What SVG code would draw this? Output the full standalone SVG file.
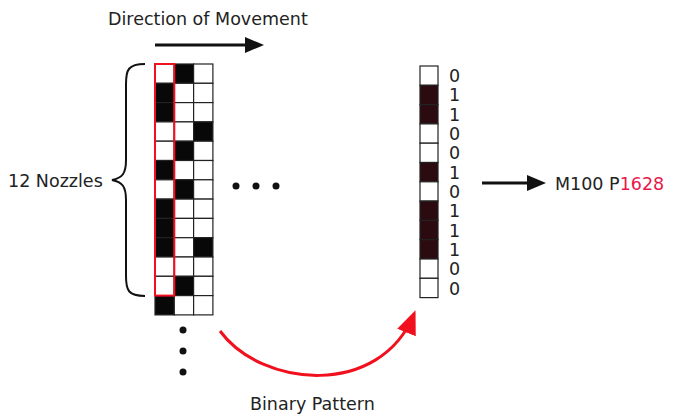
<svg xmlns="http://www.w3.org/2000/svg" width="673" height="416" viewBox="0 0 673 416">
<style>
.t{font-family:"DejaVu Sans","Liberation Sans",sans-serif;font-size:17.5px;fill:#222}
.c{fill:#fff;stroke:#222;stroke-width:1.2}
.b{fill:#080808;stroke:#222;stroke-width:1.2}
.r{fill:#2b0a10;stroke:#222;stroke-width:1.2}
.dot{fill:#111}
</style>
<defs>
<marker id="ahr" markerWidth="24" markerHeight="24" refX="20" refY="12" orient="auto" markerUnits="userSpaceOnUse"><path d="M0,2 L24,12 L0,22 z" fill="#f0101e"/></marker>
</defs>
<rect width="673" height="416" fill="#fff"/>
<g id="direction">
<text class="t" x="108" y="25">Direction of Movement</text>
<line x1="155" y1="45" x2="250" y2="45" stroke="#111" stroke-width="3"/>
<path d="M245,37 L264,45 L245,53 z" fill="#111"/>
</g>
<g id="grid">
<rect class="c" x="155" y="64" width="19.3" height="19.3"/><rect class="b" x="174.3" y="64" width="19.3" height="19.3"/><rect class="c" x="193.6" y="64" width="19.3" height="19.3"/>
<rect class="b" x="155" y="83.3" width="19.3" height="19.3"/><rect class="c" x="174.3" y="83.3" width="19.3" height="19.3"/><rect class="c" x="193.6" y="83.3" width="19.3" height="19.3"/>
<rect class="b" x="155" y="102.6" width="19.3" height="19.3"/><rect class="c" x="174.3" y="102.6" width="19.3" height="19.3"/><rect class="c" x="193.6" y="102.6" width="19.3" height="19.3"/>
<rect class="c" x="155" y="121.9" width="19.3" height="19.3"/><rect class="c" x="174.3" y="121.9" width="19.3" height="19.3"/><rect class="b" x="193.6" y="121.9" width="19.3" height="19.3"/>
<rect class="c" x="155" y="141.2" width="19.3" height="19.3"/><rect class="b" x="174.3" y="141.2" width="19.3" height="19.3"/><rect class="c" x="193.6" y="141.2" width="19.3" height="19.3"/>
<rect class="b" x="155" y="160.5" width="19.3" height="19.3"/><rect class="c" x="174.3" y="160.5" width="19.3" height="19.3"/><rect class="c" x="193.6" y="160.5" width="19.3" height="19.3"/>
<rect class="c" x="155" y="179.8" width="19.3" height="19.3"/><rect class="b" x="174.3" y="179.8" width="19.3" height="19.3"/><rect class="c" x="193.6" y="179.8" width="19.3" height="19.3"/>
<rect class="b" x="155" y="199.1" width="19.3" height="19.3"/><rect class="c" x="174.3" y="199.1" width="19.3" height="19.3"/><rect class="c" x="193.6" y="199.1" width="19.3" height="19.3"/>
<rect class="b" x="155" y="218.4" width="19.3" height="19.3"/><rect class="c" x="174.3" y="218.4" width="19.3" height="19.3"/><rect class="c" x="193.6" y="218.4" width="19.3" height="19.3"/>
<rect class="b" x="155" y="237.7" width="19.3" height="19.3"/><rect class="c" x="174.3" y="237.7" width="19.3" height="19.3"/><rect class="b" x="193.6" y="237.7" width="19.3" height="19.3"/>
<rect class="c" x="155" y="257" width="19.3" height="19.3"/><rect class="c" x="174.3" y="257" width="19.3" height="19.3"/><rect class="c" x="193.6" y="257" width="19.3" height="19.3"/>
<rect class="c" x="155" y="276.3" width="19.3" height="19.3"/><rect class="b" x="174.3" y="276.3" width="19.3" height="19.3"/><rect class="c" x="193.6" y="276.3" width="19.3" height="19.3"/>
<rect class="b" x="155" y="295.6" width="19.3" height="19.3"/><rect class="c" x="174.3" y="295.6" width="19.3" height="19.3"/><rect class="c" x="193.6" y="295.6" width="19.3" height="19.3"/>
<rect x="155" y="64" width="19.3" height="231.6" fill="none" stroke="#f01020" stroke-width="2"/>
</g>
<g id="nozzles">
<path d="M145,64 C128,64 126,70 126,84 L126,160 C126,174 122,178 112,180 C122,182 126,186 126,200 L126,276 C126,290 128,296 145,296" fill="none" stroke="#111" stroke-width="2"/>
<text class="t" x="8" y="187">12 Nozzles</text>
</g>
<g id="ellipsis">
<circle class="dot" cx="236" cy="186" r="3.5"/><circle class="dot" cx="256" cy="186" r="3.5"/><circle class="dot" cx="276" cy="186" r="3.5"/>
<circle class="dot" cx="183" cy="330" r="3.5"/><circle class="dot" cx="183" cy="351" r="3.5"/><circle class="dot" cx="183" cy="372" r="3.5"/>
</g>
<g id="pattern">
<rect class="c" x="420" y="66" width="18" height="19.3"/>
<rect class="r" x="420" y="85.3" width="18" height="19.3"/>
<rect class="r" x="420" y="104.6" width="18" height="19.3"/>
<rect class="c" x="420" y="123.9" width="18" height="19.3"/>
<rect class="c" x="420" y="143.2" width="18" height="19.3"/>
<rect class="r" x="420" y="162.5" width="18" height="19.3"/>
<rect class="c" x="420" y="181.8" width="18" height="19.3"/>
<rect class="r" x="420" y="201.1" width="18" height="19.3"/>
<rect class="r" x="420" y="220.4" width="18" height="19.3"/>
<rect class="r" x="420" y="239.7" width="18" height="19.3"/>
<rect class="c" x="420" y="259" width="18" height="19.3"/>
<rect class="c" x="420" y="278.3" width="18" height="19.3"/>
<g class="t">
<text x="449" y="82">0</text><text x="449" y="101">1</text><text x="449" y="121">1</text><text x="449" y="140">0</text><text x="449" y="159">0</text><text x="449" y="179">1</text><text x="449" y="198">0</text><text x="449" y="217">1</text><text x="449" y="237">1</text><text x="449" y="256">1</text><text x="449" y="275">0</text><text x="449" y="295">0</text>
</g>
</g>
<g id="command">
<text class="t" x="555" y="190">M100 P<tspan fill="#e8174a">1628</tspan></text>
</g>
<g id="connectors">
<line x1="482" y1="183" x2="530" y2="183" stroke="#111" stroke-width="3"/>
<path d="M527,175 L546,183 L527,191 z" fill="#111"/>
<path d="M220,331 C262,388 380,398 414,314" fill="none" stroke="#f0101e" stroke-width="3" marker-end="url(#ahr)"/>
</g>
<g id="binary">
<text class="t" x="250" y="410">Binary Pattern</text>
</g>
</svg>
